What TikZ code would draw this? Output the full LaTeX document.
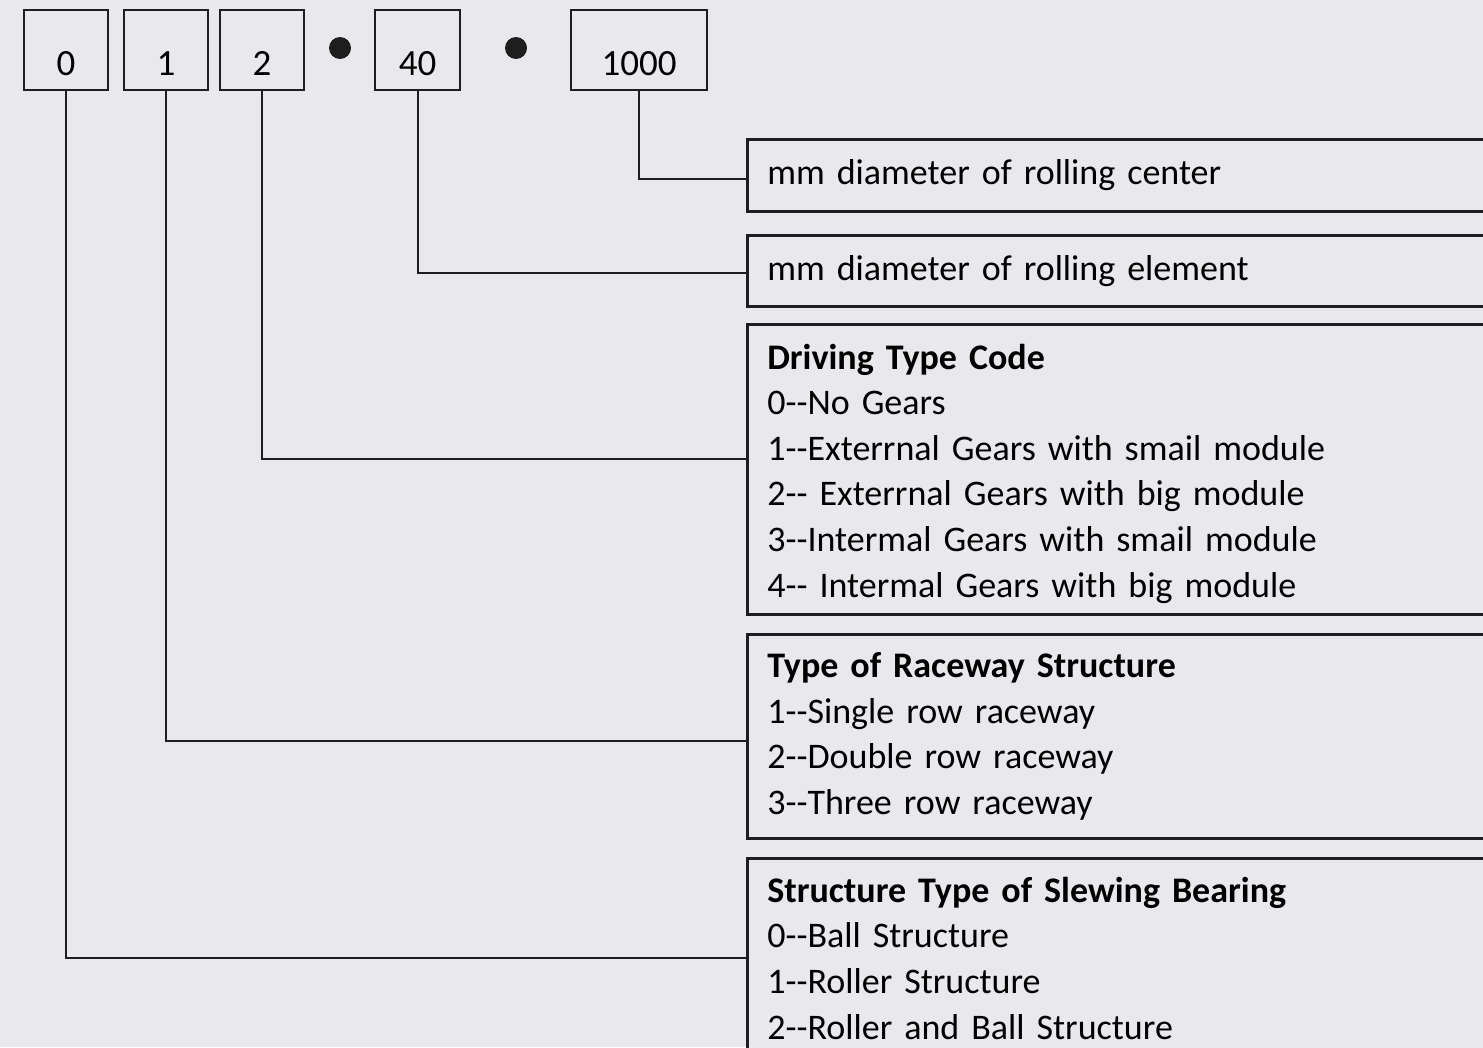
\documentclass[tikz,border=0pt]{standalone}
\usepackage{fontspec}
\setmainfont{Carlito}
\usepackage{xcolor}
\usepackage{tikz}
\usetikzlibrary{positioning}
\definecolor{paper}{RGB}{233,233,237}
\definecolor{ink}{RGB}{30,30,30}

\begin{document}
\begin{tikzpicture}[
    x=1pt, y=-1pt,
    % Node styles
    digit/.style={rectangle, draw=ink, fill=paper, line width=2.5pt, minimum height=80pt, inner sep=0pt, text height=50pt, text depth=0pt, font=\fontsize{37}{40}\selectfont},
    sepdot/.style={circle, fill=ink, minimum size=22pt, inner sep=0pt},
    infobox/.style={rectangle, draw=ink, fill=paper, line width=2.5pt, anchor=north west, minimum width=820pt, text width=780pt, inner xsep=11pt, align=left, font=\fontsize{36}{45.6}\selectfont},
    % Edge styles
    edge/.style={draw=ink, line width=2pt}
]

\clip (0,0) rectangle (1483,1047);
\fill[paper] (0,0) rectangle (1483,1047);

% Code digits along the top
\node[digit, minimum width=84pt] (d0) at (66,50) {0};
\node[digit, minimum width=84pt] (d1) at (166,50) {1};
\node[digit, minimum width=84pt] (d2) at (262,50) {2};
\node[sepdot] (dotA) at (340,48) {};
\node[digit, minimum width=85pt] (d40) at (417.5,50) {40};
\node[sepdot] (dotB) at (516,48) {};
\node[digit, minimum width=136pt] (d1000) at (639,50) {1000};

% Explanation boxes on the right
\node[infobox, minimum height=72pt] (center) at (746,138) {mm diameter of rolling center};
\node[infobox, minimum height=71pt] (element) at (746,234) {mm diameter of rolling element};
\node[infobox, minimum height=290pt] (drive) at (746,323) {\rule{0pt}{34pt}\textbf{Driving Type Code}\\
0-{}-No Gears\\
1-{}-Exterrnal Gears with smail module\\
2-{}- Exterrnal Gears with big module\\
3-{}-Intermal Gears with smail module\\
4-{}- Intermal Gears with big module};
\node[infobox, minimum height=204pt] (raceway) at (746,633) {\textbf{Type of Raceway Structure}\\
1-{}-Single row raceway\\
2-{}-Double row raceway\\
3-{}-Three row raceway};
\node[infobox, minimum height=200pt] (bearing) at (746,857) {\textbf{Structure Type of Slewing Bearing}\\
0-{}-Ball Structure\\
1-{}-Roller Structure\\
2-{}-Roller and Ball Structure};

% Draw all edges
\draw[edge] (d1000.south) |- ([yshift=-4pt]center.west);
\draw[edge] (d40.south) |- ([yshift=-2.5pt]element.west);
\draw[edge] (d2.south) |- ([yshift=10pt]drive.west);
\draw[edge] (d1.south) |- ([yshift=-5pt]raceway.west);
\draw[edge] (d0.south) |- (bearing.west);

\end{tikzpicture}
\end{document}
